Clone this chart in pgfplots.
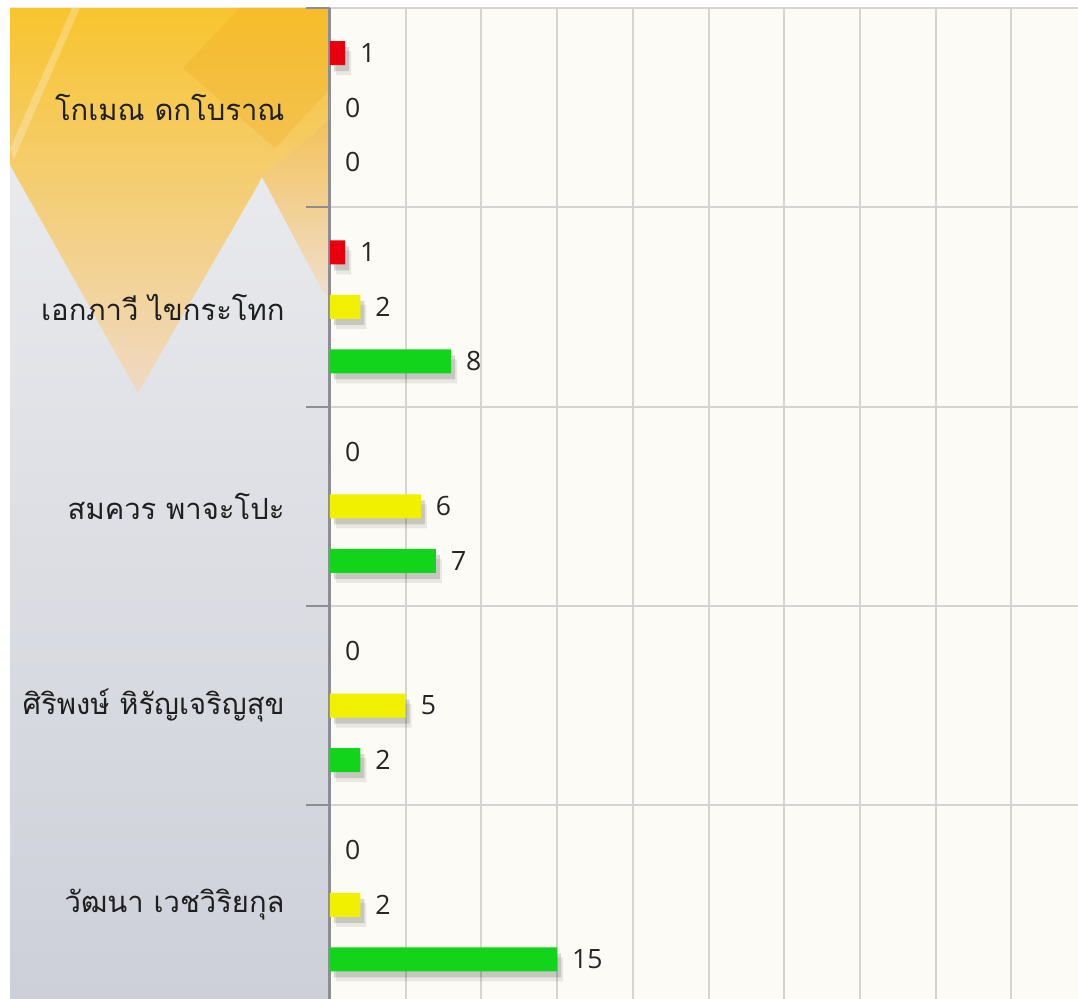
\documentclass[border=0pt]{standalone}
\usepackage{pgfplots}
\pgfplotsset{compat=1.18}
\usepackage{pgfplotstable}
\usepackage{fontspec}
\setmainfont{Open Sans}
\newfontfamily\thaifont[Script=Thai]{Loma}
\usetikzlibrary{shadows}

\definecolor{barred}{HTML}{E8000E}
\definecolor{baryellow}{HTML}{F0F000}
\definecolor{bargreen}{HTML}{12D41A}
\definecolor{plotbg}{HTML}{FDFBF5}
\definecolor{gridgray}{HTML}{D4D4D2}
\definecolor{axisgray}{HTML}{8E8E92}
\definecolor{panelTop}{HTML}{EFEFF1}
\definecolor{panelMid}{HTML}{E1E3EB}
\definecolor{panelBot}{HTML}{CDD0D9}
\definecolor{goldTop}{HTML}{F8C42E}
\definecolor{goldBot}{HTML}{F0D9C4}
\definecolor{goldDark}{HTML}{F2A920}
\definecolor{peachTop}{HTML}{F4C25A}
\definecolor{peachBot}{HTML}{F0DFCF}

% scores per person (position 4 = top row)
\pgfplotstableread{
pos val
4 1
3 1
2 0
1 0
0 0
}\redtab
\pgfplotstableread{
pos val
4 0
3 2
2 6
1 5
0 2
}\yellowtab
\pgfplotstableread{
pos val
4 0
3 8
2 7
1 2
0 15
}\greentab

\tikzset{barshade/.style={
  drop shadow={shadow xshift=2pt, shadow yshift=-3pt, opacity=0.14, fill=black},
  drop shadow={shadow xshift=3pt, shadow yshift=-5pt, opacity=0.08, fill=black}}}

\begin{document}
\begin{tikzpicture}
\path[use as bounding box] (0pt,0pt) rectangle (539pt,499.5pt);

% side panel behind the names
\shade[top color=panelTop, middle color=panelMid, bottom color=panelBot]
  (5pt,0pt) rectangle (165pt,495.5pt);
\shade[top color=goldTop, bottom color=goldBot]
  (5pt,495.5pt) -- (165pt,495.5pt) -- (165pt,440pt) -- (131pt,411pt)
  -- (127.5pt,404.5pt) -- (69pt,303pt) -- (5pt,417pt) -- cycle;
\fill[goldDark, opacity=0.28]
  (91.5pt,465.5pt) -- (120pt,495.5pt) -- (165pt,495.5pt) -- (165pt,455pt)
  -- (137.5pt,425.5pt) -- cycle;
\shade[top color=peachTop, bottom color=peachBot]
  (131pt,411pt) -- (165pt,440pt) -- (165pt,350.5pt) -- (161pt,354.5pt) -- cycle;
\fill[white, opacity=0.25]
  (5pt,425pt) -- (36pt,495.5pt) -- (40pt,495.5pt) -- (7pt,420pt) -- cycle;

\begin{axis}[
  at={(165pt,0pt)}, anchor=south west,
  scale only axis, width=374pt, height=495.5pt,
  xbar, bar width=12pt,
  xmin=0, xmax=49.4,
  ymin=-0.472, ymax=4.5,
  axis background/.style={fill=plotbg},
  axis y line*=left, axis x line*=bottom,
  x axis line style={draw=none},
  y axis line style={draw=axisgray, line width=1.5pt},
  xtick={0,5,...,45}, xticklabels={},
  xmajorgrids, major grid style={draw=gridgray, line width=1pt},
  ytick={0,1,2,3,4},
  yticklabels={วัฒนา เวชวิริยกุล, ศิริพงษ์ หิรัญเจริญสุข, สมควร พาจะโปะ, เอกภาวี ไขกระโทก, โกเมณ ดกโบราณ},
  minor ytick={-0.5,0.5,1.5,2.5,3.5,4.5},
  yminorgrids, minor grid style={draw=gridgray, line width=1pt},
  tick align=outside,
  major tick length=0pt, minor tick length=12pt,
  minor tick style={draw=axisgray, line width=1pt},
  yticklabel style={font=\thaifont\fontsize{14.6}{16}\selectfont, text=black!88,
    anchor=east, inner sep=0pt, xshift=-22.5pt},
  nodes near coords,
  /pgf/number format/assume math mode=true,
  every node near coord/.append style={font=\fontsize{13.3}{15}\selectfont,
    text=black!85, anchor=west, xshift=4pt},
  clip=false,
]
\addplot[fill=barred, draw=none, bar shift=27.25pt, barshade]
  table[x=val, y=pos] {\redtab};
\addplot[fill=baryellow, draw=none, bar shift=0pt, barshade]
  table[x=val, y=pos] {\yellowtab};
\addplot[fill=bargreen, draw=none, bar shift=-27.25pt, barshade]
  table[x=val, y=pos] {\greentab};
\end{axis}
\end{tikzpicture}
\end{document}
